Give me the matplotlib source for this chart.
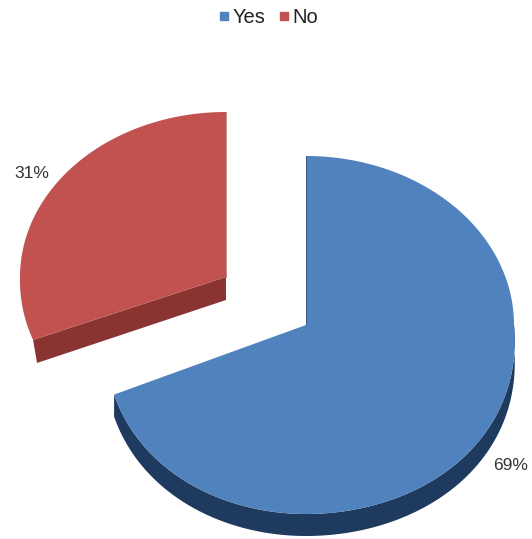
"""Exploded 3D-look pie (Yes/No), drawn as projected polygons in pixel space."""
import numpy as np
import matplotlib
matplotlib.use("Agg")
import matplotlib.pyplot as plt
from matplotlib.patches import Polygon

labels = ["Yes", "No"]
shares = [69, 31]
top_colors = ["#5082be", "#c25250"]
side_colors = ["#1f3a5f", "#8a3432"]

# apex x, apex y, rx left, rx right, ry above apex, ry below apex, depth, perspective
geometry = [
    (306, 325, 200, 208, 169, 189, 22, 0.087),
    (226, 277, 206, 206, 165, 171, 23, 0.02),
]
label_pos = [(511, 466), (32, 173)]

plt.rcParams["font.family"] = ["Liberation Sans", "DejaVu Sans"]


def rim(g, a0, a1, n=200):
    cx, cy, rx_l, rx_r, ry_up, ry_down, _, k = g
    a = np.radians(np.linspace(a0, a1, n))
    s, c = np.sin(a), np.cos(a)
    y = cy - s * np.where(s > 0, ry_up, ry_down)
    # front half of the pie sits nearer the viewer, so it spreads a little
    x = cx + c * np.where(c < 0, rx_l, rx_r) * (1 + k * np.clip(-s, 0, None))
    return np.column_stack([x, y])


fig = plt.figure(figsize=(5.32, 5.39), dpi=100)
ax = fig.add_axes([0, 0, 1, 1])
ax.set_xlim(0, 532)
ax.set_ylim(539, 0)
ax.axis("off")

start = 90
for i, share in enumerate(shares):
    sweep = share / sum(shares) * 360
    a0, a1 = start - sweep, start
    g = geometry[i]
    cx, cy, depth = g[0], g[1], g[6]
    pts = rim(g, a0, a1)

    # side wall: lower part of the rim, or the cut edge when facing the viewer
    if i == 0:
        lower = rim(g, a0, 0)
        wall = np.vstack([lower, (lower + [0, depth])[::-1]])
    else:
        corner = pts[-1]
        apex = np.array([cx, cy])
        wall = np.array([corner, apex, apex + [0, depth], corner + [4, depth]])
    ax.add_patch(Polygon(wall, closed=True, fc=side_colors[i], ec="none"))

    top = np.vstack([[cx, cy], pts])
    ax.add_patch(Polygon(top, closed=True, fc=top_colors[i], ec="none"))

    # thin dark sliver along the vertical cut
    ax.plot([cx, cx], [cy, cy - g[4]], color=side_colors[i], lw=0.7, alpha=0.55)

    ax.text(*label_pos[i], f"{share}%", ha="center", va="center",
            fontsize=12.5, color="#333333")
    start = a0

handles = [plt.Line2D([], [], ls="none", marker="s", ms=6, color=c) for c in top_colors]
fig.legend(handles, labels, loc="upper center", bbox_to_anchor=(0.5, 1.018), ncol=2,
           frameon=False, fontsize=14.5, handletextpad=-0.1, columnspacing=0.45,
           handlelength=1.0, labelcolor="#222222")

fig.savefig("out.png", dpi=100)
